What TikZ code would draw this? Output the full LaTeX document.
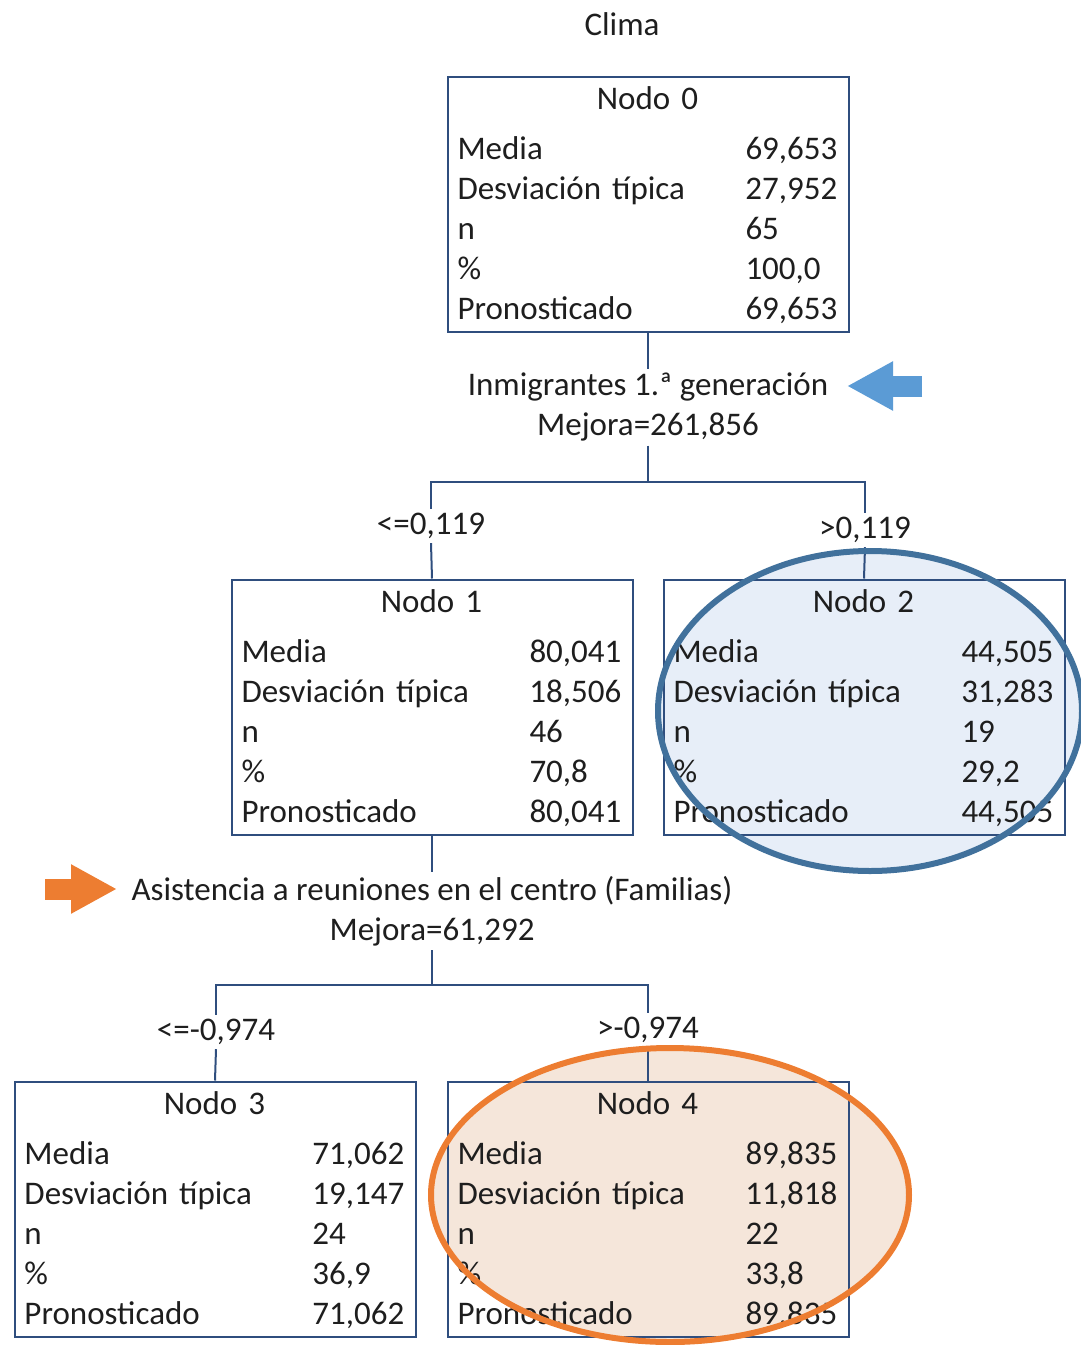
\documentclass[tikz,border=0pt]{standalone}
\usepackage{fontspec}
\setmainfont{Carlito}
\usetikzlibrary{positioning, arrows.meta}
\definecolor{clrline}{HTML}{2F4E7E}
\definecolor{clrtext}{HTML}{1E1E1E}
\definecolor{clrblue}{HTML}{5B9BD5}
\definecolor{clrblue_ring}{HTML}{41719C}
\definecolor{clrblue_fill}{HTML}{E7EEF8}
\definecolor{clrorange}{HTML}{ED7D31}
\definecolor{clrorange_fill}{HTML}{F5E6DA}

\newcommand{\nodotab}[6]{%
  \begin{tabular}{@{}p{144pt}@{}l@{}}
  \multicolumn{2}{c}{\rule{0pt}{16.5pt}#1}\\[5pt]
  Media & #2\\
  Desviación típica & #3\\
  n & #4\\
  \% & #5\\
  Pronosticado & #6
  \end{tabular}}

\begin{document}
\begin{tikzpicture}[
    x=0.5pt, y=-0.5pt,
    every node/.style={font=\fontsize{16.5}{20}\selectfont, text=clrtext},
    nodebox/.style={draw=clrline, line width=1pt, text width=190.5pt,
                    inner xsep=5pt, inner ysep=0pt, align=left},
    split/.style={align=center, inner sep=2pt},
    cond/.style={inner sep=2pt},
    conn/.style={draw=clrline, line width=1pt},
    pointer/.style={line width=10.5pt, -{Triangle[length=23pt, width=23pt]}},
]
\useasboundingbox (0,0) rectangle (1081,1345);
% highlight fills go under the boxes
\fill[clrblue_fill] (870,711) ellipse [x radius=106pt, y radius=80pt];
\fill[clrorange_fill] (670,1195) ellipse [x radius=119.5pt, y radius=73.5pt];
\node (title) at (622,24) {Clima};
\node[nodebox] (n_0) at (648,204) {\nodotab{Nodo 0}{69,653}{27,952}{65}{100,0}{69,653}};
\node[split, below=18pt of n_0] (split_1) {Inmigrantes 1.ª generación\\Mejora=261,856};
\coordinate (bar_1) at (648,482);
\node[cond] (cond_1) at (431,526) {<=0,119};
\node[cond] (cond_2) at (865,530) {>0,119};
\node[nodebox] (n_1) at (432,707) {\nodotab{Nodo 1}{80,041}{18,506}{46}{70,8}{80,041}};
\node[nodebox] (n_2) at (864,707) {\nodotab{Nodo 2}{44,505}{31,283}{19}{29,2}{44,505}};
\node[split] (split_2) at (432,911) {Asistencia a reuniones en el centro (Familias)\\Mejora=61,292};
\coordinate (bar_2) at (432,985);
\node[cond] (cond_3) at (216,1032) {<=-0,974};
\node[cond] (cond_4) at (648,1030) {>-0,974};
\node[nodebox] (n_3) at (215,1209) {\nodotab{Nodo 3}{71,062}{19,147}{24}{36,9}{71,062}};
\node[nodebox] (n_4) at (648,1209) {\nodotab{Nodo 4}{89,835}{11,818}{22}{33,8}{89,835}};
\draw[conn] (n_0.south) -- (split_1.north);
\draw[conn] (split_1.south) -- (bar_1);
\draw[conn] (cond_1.north) |- (bar_1) -| (cond_2.north);
\draw[conn] (cond_1.south) -- (n_1.north);
\draw[conn] (cond_2.south) -- (n_2.north);
\draw[conn] (n_1.south) -- (split_2.north);
\draw[conn] (split_2.south) -- (bar_2);
\draw[conn] (cond_3.north) |- (bar_2) -| (cond_4.north);
\draw[conn] (cond_3.south) -- (n_3.north);
\draw[conn] (cond_4.south) -- (n_4.north);
% rings on top
\draw[clrblue_ring, line width=3pt] (870,711) ellipse [x radius=106pt, y radius=80pt];
\draw[clrorange, line width=3pt] (670,1195) ellipse [x radius=119.5pt, y radius=73.5pt];
\draw[pointer, clrblue] (922,386) -- (847,386);
\draw[pointer, clrorange] (45,889) -- (117,889);
\end{tikzpicture}
\end{document}
